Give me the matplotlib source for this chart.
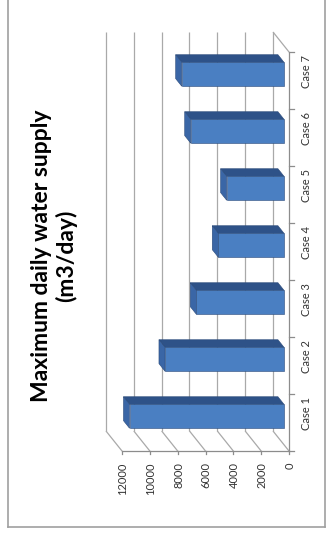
import matplotlib
matplotlib.use("Agg")
import matplotlib.pyplot as plt
from matplotlib.patches import Polygon
from matplotlib.lines import Line2D

# Data
categories = ["Case 1", "Case 2", "Case 3", "Case 4", "Case 5", "Case 6", "Case 7"]
supply = [11100, 8550, 6300, 4720, 4120, 6700, 7350]
value_ticks = [0, 2000, 4000, 6000, 8000, 10000, 12000]
title = "Maximum daily water supply\n(m3/day)"

W, H, DPI = 327, 540, 100
fig = plt.figure(figsize=(W / DPI, H / DPI), dpi=DPI)
fig.patch.set_facecolor("white")

ax = fig.add_axes([0, 0, 1, 1])
ax.set_axis_off()
# value axis runs right-to-left, categories bottom-to-top
ax.set_xlim(20766, -2730)
ax.set_ylim(-1.561, 7.912)

# oblique depth offset (back of the box) in data units
DV, DC = 1150.0, 0.351
n = len(categories)
vmax = value_ticks[-1]


def P(v, c, d):
    return (v + d * DV, c + d * DC)


grid_kw = dict(color="#a9a9a9", lw=0.9, zorder=1, solid_capstyle="butt")

# back wall gridlines
for t in value_ticks:
    x0, y0 = P(t, 0, 1)
    x1, y1 = P(t, n, 1)
    ax.plot([x0, x1], [y0, y1], **grid_kw)
    # side wall gridlines
    xa, ya = P(t, 0, 0)
    ax.plot([xa, x0], [ya, y0], **grid_kw)

# floor far edge
xa, ya = P(0, n, 0)
xb, yb = P(0, n, 1)
ax.plot([xa, xb], [ya, yb], **grid_kw)

# front value axis and category axis
axis_kw = dict(color="#8c8c8c", lw=0.9, zorder=2)
xa, ya = P(0, 0, 0)
xb, yb = P(vmax, 0, 0)
ax.plot([xa, xb], [ya, yb], **axis_kw)
xc, yc = P(0, n, 0)
ax.plot([xa, xc], [ya, yc], **axis_kw)

# ticks
for t in value_ticks:
    ax.plot([t, t], [0, -0.06], **axis_kw)
    ax.text(t - 60, -0.2, f"{t}", rotation=90, ha="center", va="top",
            fontsize=8, family="Lato", color="#333333")
for i in range(n + 1):
    ax.plot([0, -330], [i, i], **axis_kw)
for i, lab in enumerate(categories):
    ax.text(-1290, i + 0.5 + 0.16, lab, rotation=90, ha="center", va="center",
            fontsize=8, family="Lato", color="#333333")

# 3D bars
front_col = "#4a7fc2"
side_col = "#2e5288"
end_col = "#3a66a6"
edge_col = "#2a4a7a"
bw = 0.42
d0, d1 = 0.31, 0.69
for i, val in enumerate(supply):
    cb = i + 0.5 - bw / 2
    ct = i + 0.5 + bw / 2
    side = [P(0, ct, d0), P(val, ct, d0), P(val, ct, d1), P(0, ct, d1)]
    end = [P(val, cb, d0), P(val, ct, d0), P(val, ct, d1), P(val, cb, d1)]
    front = [P(0, cb, d0), P(val, cb, d0), P(val, ct, d0), P(0, ct, d0)]
    ax.add_patch(Polygon(side, closed=True, fc=side_col, ec=edge_col, lw=0.4, zorder=5))
    ax.add_patch(Polygon(end, closed=True, fc=end_col, ec=edge_col, lw=0.4, zorder=5))
    ax.add_patch(Polygon(front, closed=True, fc=front_col, ec=edge_col, lw=0.4, zorder=6))

# title
fig.text(54 / W, 1 - 256 / H, title, rotation=90, ha="center", va="center",
         fontsize=16.5, fontweight="bold", family="Lato", color="black",
         multialignment="center", linespacing=1.2)

# chart frame
frame_kw = dict(color="#a0a0a0", lw=1.2, transform=fig.transFigure)
fig.add_artist(Line2D([8 / W, 8 / W], [1, 1 - 527 / H], **frame_kw))
fig.add_artist(Line2D([8 / W, 325 / W], [1 - 527 / H, 1 - 527 / H], **frame_kw))
fig.add_artist(Line2D([325 / W, 325 / W], [1 - 527 / H, 1], **frame_kw))

fig.savefig("out.png", dpi=DPI, facecolor="white")
